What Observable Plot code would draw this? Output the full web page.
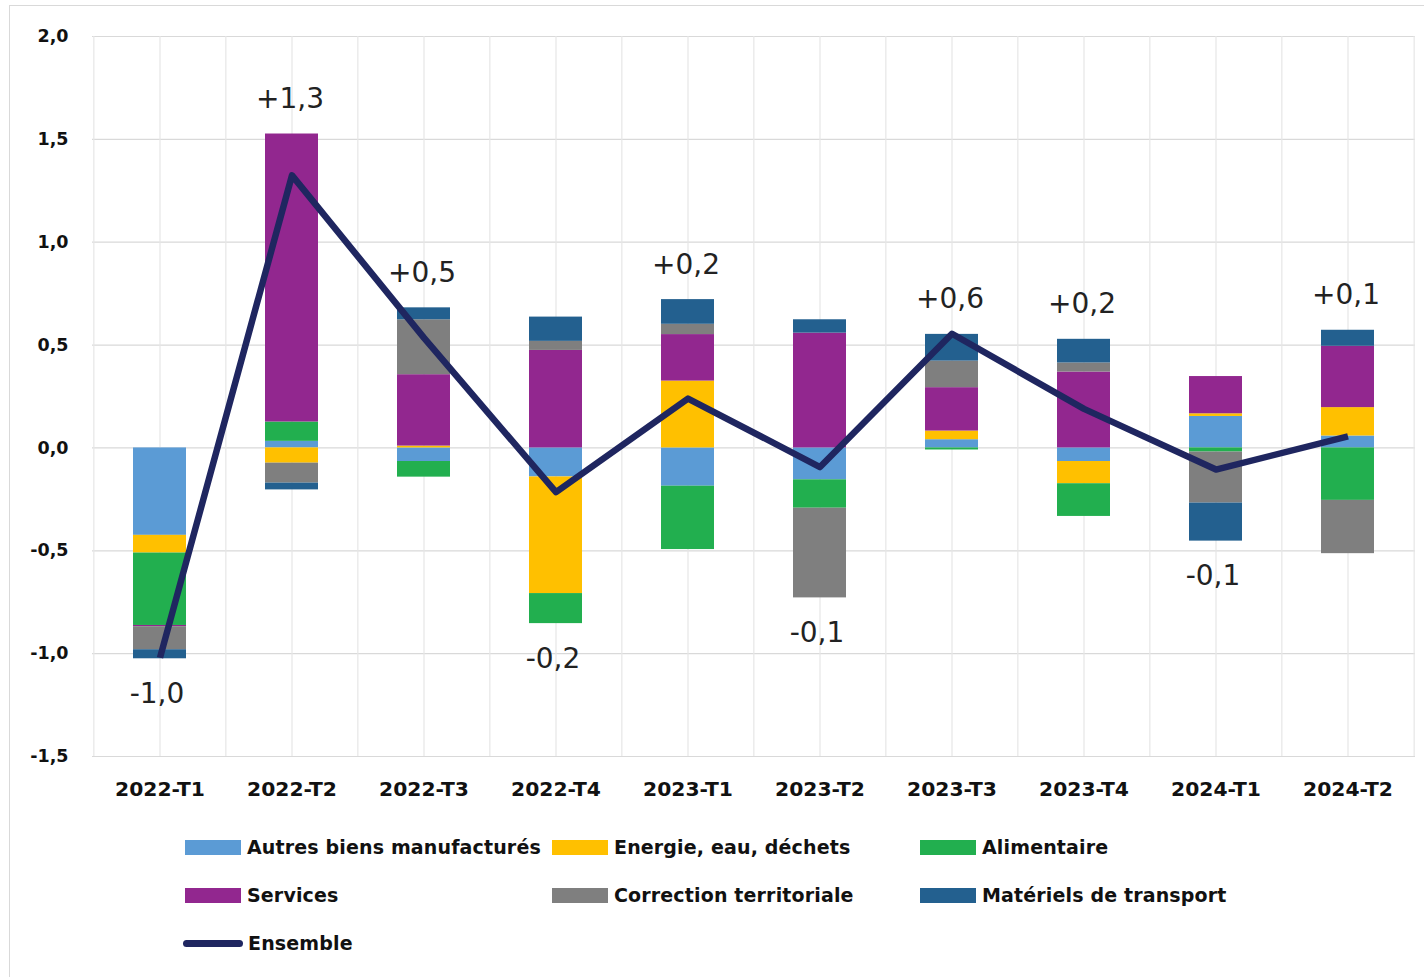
<!DOCTYPE html>
<html>
<head>
<meta charset="utf-8">
<script src="https://cdn.jsdelivr.net/npm/d3@7"></script>
<script src="https://cdn.jsdelivr.net/npm/@observablehq/plot@0.6"></script>
<style>
  html, body { margin: 0; padding: 0; background: #fff; }
  #wrap { position: relative; width: 1424px; height: 977px; overflow: hidden; font-family: "DejaVu Sans", sans-serif; }
  #frame { position: absolute; left: 9px; top: 5px; width: 1430px; height: 990px; border-left: 1px solid #d9d9d9; border-top: 1px solid #d9d9d9; }
  #chart { position: absolute; left: 0; top: 0; }
  .lg { position: absolute; display: flex; align-items: center; font-weight: bold; font-size: 19px; color: #111; white-space: nowrap; letter-spacing: 0.15px; }
  .sw { width: 56px; height: 15px; margin-right: 6px; }
  .ln { width: 60px; height: 7px; border-radius: 4px; margin-right: 5px; }
</style>
</head>
<body>
<div id="wrap">
  <div id="frame"></div>
  <div id="chart"></div>
  <div id="legend"></div>
</div>
<script>
// ---- Data ----
const quarters = ["2022-T1","2022-T2","2022-T3","2022-T4","2023-T1","2023-T2","2023-T3","2023-T4","2024-T1","2024-T2"];
const seriesNames = ["Autres biens manufacturés","Energie, eau, déchets","Alimentaire","Services","Correction territoriale","Matériels de transport"];
const seriesColors = ["#5B9BD5","#FFC000","#22AF4F","#92278F","#7F7F7F","#23608F"];
const autres      = [-0.425, 0.032, -0.066, -0.141, -0.186, -0.155, 0.040, -0.066, 0.153, 0.058];
const energie     = [-0.086, -0.074, 0.009, -0.567, 0.325, 0.000, 0.042, -0.108, 0.013, 0.138];
const alimentaire = [-0.352, 0.094, -0.076, -0.146, -0.308, -0.138, -0.010, -0.159, -0.020, -0.255];
const services    = [-0.006, 1.400, 0.347, 0.474, 0.226, 0.558, 0.211, 0.369, 0.181, 0.298];
const correction  = [-0.112, -0.097, 0.267, 0.044, 0.050, -0.436, 0.129, 0.044, -0.248, -0.259];
const materiels   = [-0.044, -0.033, 0.058, 0.118, 0.120, 0.065, 0.130, 0.115, -0.185, 0.078];
const ensemble    = [-1.02, 1.325, 0.535, -0.215, 0.24, -0.093, 0.555, 0.19, -0.105, 0.056];
const ensembleLabels = ["-1,0","+1,3","+0,5","-0,2","+0,2","-0,1","+0,6","+0,2","-0,1","+0,1"];
const yTicks = [-1.5, -1.0, -0.5, 0.0, 0.5, 1.0, 1.5, 2.0];

// ---- Build tables ----
const seriesValues = [autres, energie, alimentaire, services, correction, materiels];
const long = [];
seriesValues.forEach((vals, s) => vals.forEach((v, i) => long.push({quarter: quarters[i], series: seriesNames[s], value: v})));
const ens = quarters.map((q, i) => {
  const comps = seriesValues.map(v => v[i]);
  return {
    quarter: q, value: ensemble[i], label: ensembleLabels[i],
    top: d3.sum(comps.filter(c => c > 0)),
    bottom: d3.sum(comps.filter(c => c < 0))
  };
});

const W = 1424, ML = 92, MR = 9;
const halfStep = (W - ML - MR) / quarters.length / 2;
const fmt = d => d.toFixed(1).replace(".", ",").replace("-0,0", "0,0");

const chart = Plot.plot({
  width: W, height: 810,
  marginLeft: ML, marginRight: MR, marginTop: 36, marginBottom: 54,
  style: {fontFamily: "DejaVu Sans, sans-serif", background: "transparent", color: "#111"},
  x: {domain: quarters, paddingInner: 0.6, paddingOuter: 0.3, label: null},
  y: {domain: [-1.5, 2.0], label: null},
  color: {domain: seriesNames, range: seriesColors},
  marks: [
    Plot.gridY(yTicks, {stroke: "#d9d9d9", strokeOpacity: 1, strokeWidth: 1.2}),
    Plot.ruleX(quarters, {x: d => d, stroke: "#e6e6e6", strokeWidth: 1.2, dx: 0}),
    Plot.ruleX(quarters, {x: d => d, stroke: "#e6e6e6", strokeWidth: 1.2, dx: -halfStep}),
    Plot.ruleX(quarters.slice(-1), {x: d => d, stroke: "#e6e6e6", strokeWidth: 1.2, dx: halfStep}),
    Plot.barY(long, {x: "quarter", y: "value", fill: "series"}),
    Plot.line(ens, {x: "quarter", y: "value", stroke: "#1F2660", strokeWidth: 6.5, strokeLinejoin: "round", strokeLinecap: "butt"}),
    Plot.text(ens.filter(d => d.value >= 0), {x: "quarter", y: "top", text: "label", dy: -35, dx: -2, fontSize: 28, fill: "#222"}),
    Plot.text(ens.filter(d => d.value < 0), {x: "quarter", y: "bottom", text: "label", dy: 35, dx: -3, fontSize: 28, fill: "#222"}),
    Plot.axisY({ticks: yTicks, tickFormat: fmt, tickSize: 0, tickPadding: 24, fontSize: 17.5, fontWeight: "bold", label: null}),
    Plot.axisX({tickSize: 0, tickPadding: 25, fontSize: 20.3, fontWeight: "bold", label: null})
  ]
});
document.getElementById("chart").appendChild(chart);

// ---- Legend (HTML, below the SVG) ----
const legend = document.getElementById("legend");
const colX = [185, 552, 920];
const rowY = [847, 895, 943];
seriesNames.forEach((name, i) => {
  const el = document.createElement("div");
  el.className = "lg";
  el.style.left = colX[i % 3] + "px";
  el.style.top = (rowY[Math.floor(i / 3)] - 12) + "px";
  el.style.height = "24px";
  el.innerHTML = `<span class="sw" style="background:${seriesColors[i]}"></span><span>${name}</span>`;
  legend.appendChild(el);
});
const le = document.createElement("div");
le.className = "lg";
le.style.left = "183px";
le.style.top = (rowY[2] - 12) + "px";
le.style.height = "24px";
le.innerHTML = `<span class="ln" style="background:#1F2660"></span><span>Ensemble</span>`;
legend.appendChild(le);
</script>
</body>
</html>
